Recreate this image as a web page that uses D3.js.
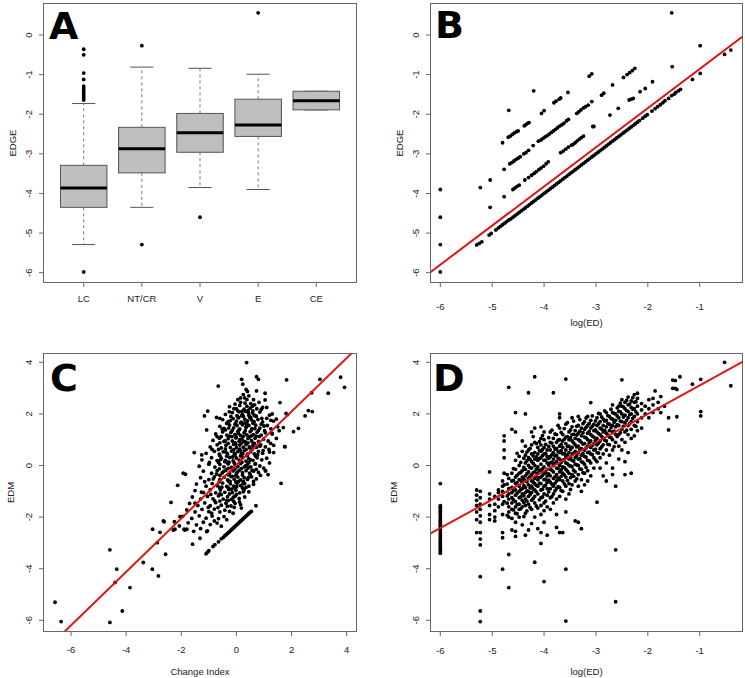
<!DOCTYPE html>
<html><head><meta charset="utf-8">
<script src="https://cdn.jsdelivr.net/npm/d3@7/dist/d3.min.js"></script>
<style>body{margin:0;background:#fff}svg{display:block}</style>
</head><body>
<svg id="c" width="745" height="678"></svg>
<script>
// ---------------- DATA ----------------
// Panel A: boxplot of EDGE by category
const categories = ["LC","NT/CR","V","E","CE"];
const boxLow  = [-5.29,-4.35,-3.85,-3.90,-1.89];
const boxQ1   = [-4.35,-3.48,-2.96,-2.56,-1.89];
const boxMed  = [-3.86,-2.87,-2.47,-2.27,-1.66];
const boxQ3   = [-3.29,-2.33,-1.98,-1.62,-1.42];
const boxHigh = [-1.73,-0.81,-0.84,-0.99,-1.42];
const boxOutliers = [[0,-0.36],[0,-0.50],[0,-0.96],[0,-1.12],[0,-1.29],[0,-1.34],[0,-1.39],[0,-1.44],[0,-1.49],[0,-1.54],[0,-1.59],[0,-1.64],[0,-5.98],
  [1,-0.27],[1,-5.29],[2,-4.60],[3,0.56]];
const yTicksAB = [-6,-5,-4,-3,-2,-1,0];
const xTicksBD = [-6,-5,-4,-3,-2,-1];
const yTicksCD = [-6,-4,-2,0,2,4];
const xTicksC  = [-6,-4,-2,0,2,4];

// Panel B: EDGE vs log(ED)
const bIsolated = [[-6,-3.90],[-6,-4.60],[-6,-5.29],[-6,-5.98],[-5.23,-3.85],[-5.04,-3.66],[-5.04,-4.35],[-4.68,-1.90],[-4.20,-1.41],
  [-1.54,0.56],[-1.53,-0.80],[-0.99,-0.27],[-0.99,-0.97],[-1.14,-1.12],[-0.52,-0.49],[-0.40,-0.38]];
const bLine4 = [[-4.80,-2.72],[-4.69,-2.58],[-4.65,-2.55],[-4.61,-2.51],[-4.57,-2.47],[-4.53,-2.44],[-4.50,-2.42],[-4.38,-2.29],[-4.35,-2.26],[-4.32,-2.23],[-4.29,-2.21],
  [-4.05,-1.98],[-4.00,-1.91],[-3.81,-1.71],[-3.77,-1.67],[-3.71,-1.62],[-3.68,-1.59],[-3.54,-1.45],[-3.13,-1.04],[-3.08,-0.98]];
const bLine3 = [[-4.77,-3.39],[-4.66,-3.25],[-4.62,-3.22],[-4.58,-3.18],[-4.54,-3.14],[-4.50,-3.11],[-4.46,-3.07],[-4.39,-3.00],[-4.35,-2.97],[-4.30,-2.91],[-4.21,-2.79],
  [-4.11,-2.68],[-4.06,-2.65],[-4.02,-2.61],[-3.98,-2.57],[-3.94,-2.54],[-3.90,-2.50],[-3.86,-2.46],[-3.82,-2.42],[-3.78,-2.38],[-3.74,-2.34],[-3.70,-2.30],[-3.66,-2.27],
  [-3.62,-2.23],[-3.57,-2.17],[-3.53,-2.13],[-3.37,-1.98],[-3.33,-1.94],[-3.29,-1.89],[-3.24,-1.84],[-3.20,-1.81],[-3.15,-1.77],[-3.08,-1.68],[-2.89,-1.52],[-2.85,-1.47],
  [-2.68,-1.26],[-2.47,-1.07],[-2.40,-1.00],[-2.35,-0.95],[-2.30,-0.90],[-2.25,-0.84]];
const bLine2 = [[-4.77,-4.08],[-4.60,-3.90],[-4.56,-3.86],[-4.52,-3.82],[-4.48,-3.79],[-4.37,-3.66],[-4.30,-3.60],[-4.24,-3.54],[-4.19,-3.49],[-4.15,-3.45],[-4.10,-3.40],
  [-4.06,-3.36],[-4.01,-3.31],[-3.96,-3.25],[-3.92,-3.20],[-3.68,-2.97],[-3.63,-2.93],[-3.58,-2.88],[-3.53,-2.83],[-3.47,-2.78],[-3.44,-2.76],[-3.40,-2.72],[-3.36,-2.67],
  [-3.32,-2.63],[-3.28,-2.59],[-3.24,-2.55],[-3.06,-2.31],[-3.04,-2.31],[-2.73,-2.02],[-2.57,-1.85],[-2.36,-1.64],[-2.32,-1.62],[-2.28,-1.60],[-2.15,-1.43],[-2.05,-1.35],[-1.91,-1.18]];
const bMain = [[-5.30,-5.30],[-5.25,-5.26],[-5.20,-5.22],[-5.06,-5.05],[-5.02,-5.01],[-4.93,-4.92],[-4.88,-4.87],[-4.84,-4.83],[-4.80,-4.79],[-4.76,-4.75],[-4.72,-4.71],[-4.68,-4.67],
  [-4.64,-4.64],[-4.60,-4.60],[-4.56,-4.56],[-4.52,-4.52],[-4.48,-4.48],[-4.44,-4.44],[-4.40,-4.40],[-4.36,-4.36],[-4.32,-4.32],[-4.28,-4.28],[-4.24,-4.24],[-4.20,-4.20],
  [-4.16,-4.16],[-4.12,-4.12],[-4.08,-4.08],[-4.04,-4.04],[-4.00,-4.00],[-3.96,-3.96],[-3.92,-3.92],[-3.88,-3.88],[-3.84,-3.84],[-3.80,-3.80],[-3.76,-3.76],[-3.72,-3.72],
  [-3.68,-3.68],[-3.64,-3.64],[-3.60,-3.60],[-3.56,-3.56],[-3.52,-3.52],[-3.48,-3.48],[-3.44,-3.44],[-3.40,-3.40],[-3.36,-3.36],[-3.32,-3.32],[-3.28,-3.28],[-3.24,-3.24],
  [-3.20,-3.20],[-3.16,-3.16],[-3.12,-3.12],[-3.08,-3.08],[-3.04,-3.04],[-3.00,-3.00],[-2.96,-2.96],[-2.92,-2.92],[-2.88,-2.88],[-2.84,-2.84],[-2.80,-2.80],[-2.76,-2.76],
  [-2.72,-2.72],[-2.68,-2.68],[-2.64,-2.64],[-2.60,-2.60],[-2.56,-2.56],[-2.52,-2.52],[-2.48,-2.48],[-2.44,-2.44],[-2.40,-2.40],[-2.36,-2.36],[-2.32,-2.32],[-2.28,-2.28],
  [-2.24,-2.24],[-2.20,-2.20],[-2.16,-2.16],[-2.10,-2.10],[-2.05,-2.05],[-2.01,-2.01],[-1.92,-1.92],[-1.86,-1.86],[-1.81,-1.81],[-1.76,-1.76],[-1.71,-1.71],[-1.67,-1.66],
  [-1.60,-1.60],[-1.54,-1.53],[-1.49,-1.49],[-1.46,-1.45],[-1.41,-1.41],[-1.37,-1.37]];
const fitB = [0.13, 0.988];   // intercept, slope

// Panel C: EDM vs Change Index
const cOutliers = [[-6.58,-5.30],[-6.36,-6.05],[-4.59,-3.27],[-4.59,-6.08],[-4.34,-4.02],[-4.40,-4.53],[-4.14,-5.64],[-3.86,-4.73],[-3.38,-3.76],[-3.05,-4.02],[-2.83,-4.28],[-3.04,-2.47]];
const cFringe = [[-2.87,-2.99],[-2.77,-2.59],[-2.65,-2.15],[-2.62,-2.18],[-2.57,-3.44],[-2.37,-1.43],[-2.29,-2.50],[-2.25,-2.18],[-2.13,-0.77],[-2.05,-1.98],[-1.93,-0.30],
  [-1.85,-0.34],[-1.80,-2.47],[-1.59,-3.05],[-1.50,-1.46],[-1.32,-2.82],[-1.08,-2.56],[-2.23,-2.47],[-2.07,-2.34],[-1.87,-2.50],[-1.16,1.92],[-1.04,2.11],[-1.08,1.38],
  [-0.66,3.08],[-0.60,1.83],[-0.72,1.86],[-0.26,2.08],[0.19,3.34],[0.23,3.15],[0.37,3.99],[0.73,3.44],[0.80,3.34],[0.73,2.89],[1.04,2.80],[1.04,2.54],[1.62,-0.69],
  [1.58,2.44],[1.82,3.32],[1.80,2.02],[1.85,1.97],[1.76,0.73],[2.07,1.31],[2.25,1.44],[2.49,1.92],[2.61,2.13],[2.75,2.09],[2.73,2.82],[3.03,3.34],[3.33,2.80],[3.78,3.42],
  [3.92,3.03],[1.06,-0.21],[0.35,2.95],[0.40,2.87],[0.25,2.75],[0.05,2.55],[0.30,2.62],[0.45,2.70],[0.62,2.55],[0.15,2.45],[0.52,2.40],[-1.53,0.50],[-1.26,0.41],
  [1.28,1.25],[1.70,1.47],[1.24,0.86],[1.35,0.50],[1.45,1.80],[1.55,1.35],[1.30,2.00],[1.20,0.10],[1.15,-0.35],[0.71,-1.56]];
const cBlob = [
  [-0.25,2.28],[0.0,2.2],[0.12,2.33],[0.28,2.18],[0.38,2.3],[0.5,2.22],[0.66,2.35],[0.9,2.17],[1.1,2.25],
  [-0.4,1.98],[-0.15,2.05],[0.02,1.93],[0.1,2.08],[0.22,1.97],[0.32,2.1],[0.45,1.95],[0.58,2.04],[0.7,1.92],[0.85,2.07],[1.2,1.95],
  [-0.5,1.78],[-0.3,1.7],[-0.12,1.82],[0.0,1.72],[0.08,1.85],[0.18,1.68],[0.3,1.8],[0.4,1.73],[0.52,1.86],[0.64,1.7],[0.78,1.78],[0.95,1.69],[1.1,1.83],[1.35,1.72],
  [-0.6,1.52],[-0.45,1.44],[-0.25,1.57],[-0.1,1.46],[0.02,1.55],[0.12,1.42],[0.22,1.58],[0.35,1.47],[0.45,1.55],[0.56,1.43],[0.7,1.56],[0.85,1.45],[1.0,1.53],[1.25,1.42],[1.5,1.5],
  [-0.75,1.22],[-0.5,1.3],[-0.35,1.18],[-0.2,1.28],[-0.05,1.2],[0.05,1.32],[0.15,1.17],[0.28,1.27],[0.38,1.19],[0.5,1.31],[0.62,1.2],[0.75,1.29],[0.9,1.18],[1.05,1.27],[1.3,1.22],
  [-0.85,0.97],[-0.62,1.06],[-0.45,0.93],[-0.3,1.04],[-0.15,0.95],[-0.02,1.07],[0.1,0.94],[0.2,1.03],[0.32,0.92],[0.42,1.05],[0.55,0.96],[0.68,1.06],[0.8,0.93],[0.98,1.02],[1.15,0.95],[1.45,1.05],
  [-0.95,0.72],[-0.7,0.8],[-0.55,0.68],[-0.38,0.78],[-0.22,0.7],[-0.1,0.82],[0.0,0.69],[0.12,0.79],[0.25,0.71],[0.35,0.81],[0.48,0.68],[0.6,0.77],[0.72,0.7],[0.88,0.8],[1.05,0.72],[1.35,0.78],[1.75,0.73],
  [-1.1,0.47],[-0.8,0.55],[-0.62,0.44],[-0.48,0.53],[-0.32,0.45],[-0.18,0.56],[-0.05,0.43],[0.05,0.54],[0.18,0.46],[0.28,0.57],[0.4,0.44],[0.52,0.53],[0.65,0.45],[0.8,0.55],[0.95,0.47],[1.2,0.52],
  [-1.25,0.22],[-0.9,0.3],[-0.7,0.19],[-0.55,0.28],[-0.4,0.2],[-0.25,0.31],[-0.12,0.18],[0.0,0.29],[0.1,0.21],[0.22,0.3],[0.35,0.17],[0.45,0.27],[0.6,0.2],[0.75,0.3],[0.92,0.22],[1.1,0.28],
  [-1.35,-0.03],[-1.0,0.05],[-0.78,-0.06],[-0.6,0.04],[-0.45,-0.05],[-0.3,0.06],[-0.18,-0.07],[-0.05,0.03],[0.05,-0.04],[0.15,0.07],[0.28,-0.06],[0.4,0.03],[0.52,-0.05],[0.68,0.05],[0.85,-0.02],
  [-1.2,-0.22],[-0.9,-0.3],[-0.7,-0.2],[-0.52,-0.29],[-0.38,-0.18],[-0.25,-0.3],[-0.12,-0.21],[0.0,-0.31],[0.1,-0.19],[0.22,-0.28],[0.35,-0.2],[0.48,-0.3],[0.62,-0.22],[0.8,-0.27],[1.05,-0.2],
  [-1.3,-0.47],[-1.0,-0.55],[-0.8,-0.44],[-0.6,-0.54],[-0.45,-0.46],[-0.32,-0.56],[-0.2,-0.43],[-0.08,-0.53],[0.05,-0.45],[0.15,-0.56],[0.28,-0.47],[0.4,-0.54],[0.55,-0.44],[0.72,-0.52],
  [-1.45,-0.72],[-1.1,-0.8],[-0.88,-0.7],[-0.68,-0.79],[-0.5,-0.68],[-0.35,-0.81],[-0.22,-0.71],[-0.1,-0.8],[0.02,-0.69],[0.15,-0.78],[0.3,-0.7],[0.45,-0.8],[0.62,-0.73],
  [-1.5,-0.97],[-1.2,-1.05],[-0.95,-0.94],[-0.75,-1.06],[-0.58,-0.95],[-0.42,-1.04],[-0.28,-0.93],[-0.15,-1.05],[-0.02,-0.96],[0.12,-1.06],[0.28,-0.94],[0.45,-1.02],
  [-1.6,-1.22],[-1.3,-1.3],[-1.05,-1.2],[-0.85,-1.29],[-0.65,-1.18],[-0.48,-1.3],[-0.32,-1.21],[-0.18,-1.31],[-0.05,-1.19],[0.1,-1.28],[0.3,-1.22],
  [-1.7,-1.47],[-1.4,-1.55],[-1.15,-1.45],[-0.95,-1.56],[-0.75,-1.44],[-0.55,-1.54],[-0.38,-1.46],[-0.2,-1.57],[-0.05,-1.47],[0.15,-1.52],
  [-1.8,-1.72],[-1.5,-1.8],[-1.25,-1.7],[-1.0,-1.79],[-0.8,-1.69],[-0.6,-1.8],[-0.42,-1.73],[-0.25,-1.78],
  [-1.95,-1.97],[-1.62,-2.05],[-1.35,-1.95],[-1.1,-2.04],[-0.88,-1.96],[-0.65,-2.06],[-0.45,-1.98],
  [-1.75,-2.22],[-1.45,-2.3],[-1.2,-2.2],[-0.95,-2.29],[-0.7,-2.23],
  [-1.9,-2.47],[-1.55,-2.55],[-1.3,-2.45],[-1.05,-2.53],
  [0.05,2.12],[0.2,2.1],[0.42,2.14],[0.6,2.12],
  [-0.2,1.9],[0.05,1.88],[0.25,1.9],[0.48,1.87],[0.72,1.9],
  [-0.35,1.63],[-0.05,1.6],[0.15,1.65],[0.38,1.62],[0.6,1.64],[0.9,1.6],
  [-0.4,1.38],[-0.15,1.36],[0.1,1.39],[0.32,1.35],[0.55,1.38],[0.8,1.36],
  [-0.55,1.12],[-0.25,1.14],[0.0,1.1],[0.25,1.13],[0.48,1.11],[0.72,1.14],
  [-0.6,0.88],[-0.3,0.86],[-0.05,0.89],[0.18,0.87],[0.42,0.88],[0.65,0.86],
  [-0.65,0.62],[-0.4,0.64],[-0.1,0.61],[0.12,0.63],[0.35,0.62],[0.58,0.64],
  [-0.6,0.38],[-0.35,0.36],[-0.08,0.39],[0.15,0.37],[0.4,0.38],[0.7,0.36],
  [-0.65,0.12],[-0.35,0.14],[-0.08,0.1],[0.2,0.13],[0.45,0.11],
  [-0.62,-0.13],[-0.3,-0.11],[-0.05,-0.14],[0.18,-0.12],[0.42,-0.1],
  [-0.6,-0.38],[-0.3,-0.36],[-0.02,-0.39],[0.22,-0.37],[0.5,-0.36],
  [-0.62,-0.63],[-0.28,-0.61],[-0.02,-0.64],[0.25,-0.62],
  [-0.6,-0.88],[-0.3,-0.86],[-0.05,-0.89],[0.22,-0.87],
  [-0.55,-1.13],[-0.25,-1.1],[0.0,-1.12],
  [-0.6,-1.38],[-0.3,-1.36],[-0.1,-1.39]];
const cCore = [[-0.52,1.41],[-0.38,0.52],[-0.22,1.74],[-0.18,-0.92],[-0.14,0.33],[-0.09,2.2],[0.03,-0.27],[0.07,1.25],[0.11,-1.41],[0.14,0.58],[0.19,1.93],
  [0.24,-0.71],[0.27,0.93],[0.31,2.42],[0.33,-0.02],[0.36,1.52],[0.43,-0.47],[0.46,1.08],[0.51,0.22],[0.54,1.77],[0.57,-0.18],[0.61,0.86],[0.67,1.43],[0.69,0.07],
  [0.74,2.2],[0.77,0.42],[0.83,1.12],[0.87,-0.38],[0.92,1.83],[0.97,0.58],[-0.46,-0.23],[-0.41,0.95],[-0.33,-1.58],[-0.27,0.13],[-0.23,-0.62],[-0.16,1.12],
  [-0.11,-1.23],[-0.07,0.47],[-0.03,1.62],[0.01,-0.82],[-0.72,-0.33],[-0.67,-1.63],[-0.58,0.23],[-0.53,-0.84],[-0.84,-0.52],[-0.79,-1.37],[-0.93,-1.12],
  [-1.02,-1.62],[-1.15,-0.63],[-1.27,-1.03],[-0.98,0.12],[-0.88,0.62],[-0.7,1.12],[0.38,2.55],[0.15,2.62],[0.58,2.3],[0.82,2.45],[0.95,2.25],[-0.05,2.38],
  [0.25,-1.02],[0.35,-0.85],[0.18,-1.65],[-0.12,-1.85],[-0.35,-2.1],[-0.55,-2.35],[-0.8,-2.15],[1.12,1.55],[1.18,0.62],[1.25,1.75],[0.99,-0.1],[1.02,1.35],
  [0.62,-0.62],[0.72,-0.15],[0.47,0.72],[0.12,1.0],[0.23,0.45],[-0.28,1.45],[-0.42,0.15],[-0.15,-0.42],[0.08,-0.62],[-0.02,0.82],[0.3,1.65],[0.43,2.05],
  [0.65,1.95],[0.55,1.15],[0.85,0.75],[-0.6,-1.1],[-0.35,-1.35],[-0.08,-1.62],[-0.9,-1.85]];
const cStreak = [[-1.10,-3.42],[-1.05,-3.36],[-1.00,-3.30],[-0.85,-3.14],[-0.78,-3.07],[-0.65,-2.96],[-0.55,-2.84],[-0.48,-2.79],[-0.42,-2.72],
  [-0.38,-2.69],[-0.34,-2.65],[-0.30,-2.61],[-0.26,-2.57],[-0.22,-2.53],[-0.18,-2.49],[-0.14,-2.45],[-0.10,-2.41],[-0.06,-2.37],[-0.02,-2.33],[0.02,-2.29],[0.06,-2.25],
  [0.10,-2.21],[0.14,-2.17],[0.18,-2.13],[0.22,-2.09],[0.26,-2.05],[0.30,-2.01],[0.34,-1.97],[0.38,-1.93],[0.42,-1.89],[0.46,-1.85],[0.50,-1.81],[0.54,-1.78]];
const fitC = [0.02, 1.036];

// Panel D: EDM vs log(ED) -- points grouped by their log(ED) value
const dColumns = [
  [-6.00,[-0.70,-1.56,-1.62,-1.70,-1.78,-1.85,-1.92,-2.00,-2.07,-2.14,-2.20,-2.28,-2.35,-2.42,-2.50,-2.58,-2.65,-2.72,-2.80,-2.88,-2.95,-3.02,-3.10,-3.18,-3.25,-3.33,-3.40]],
  [-5.30,[-0.95,-1.15,-1.35,-1.55,-1.80,-2.10,-2.60]],
  [-5.23,[-1.00,-1.25,-1.50,-1.70,-1.95,-2.20,-2.60,-2.85,-3.08,-4.31,-5.64,-6.05]],
  [-5.05,[-0.25,-1.10,-1.30,-1.55,-1.90,-2.10]],
  [-4.95,[-1.20,-1.50,-1.75,-2.00,-2.15]],
  [-4.88,[-0.95,-1.05,-1.30,-1.60]],
  [-4.80,[-0.60,-0.80,-1.00,-1.20,-1.50,-1.90,-2.60,-2.80,-4.02]],
  [-4.77,[0.30,0.60,0.95,1.15,-0.30,-0.75,-1.40]],
  [-4.71,[-0.35,-0.72,-1.18,-1.46,-1.93]],
  [-4.68,[3.03,-0.50,-0.90,-1.10,-1.30,-1.60,-1.80,-2.00,-3.45,-4.73]],
  [-4.62,[1.40,-0.30,-0.60,-0.85,-1.05,-1.25,-1.45,-1.70,-2.05,-2.50]],
  [-4.59,[-0.12,-0.58,-0.97,-1.33,-1.72]],
  [-4.55,[2.05,1.30,0.20,-0.15,-0.45,-0.70,-0.95,-1.15,-1.40,-1.60,-1.85,-2.20,-2.55,-2.75]],
  [-4.52,[0.47,-0.38,-0.66,-1.08,-1.52,-1.87]],
  [-4.48,[0.35,0.00,-0.30,-0.55,-0.80,-1.00,-1.25,-1.50,-1.70,-2.00]],
  [-4.45,[0.12,-0.27,-0.58,-0.93,-1.22,-1.68]],
  [-4.42,[0.95,0.55,-0.20,-0.45,-0.65,-0.90,-1.10,-1.35,-1.60,-2.30]],
  [-4.39,[0.28,-0.07,-0.52,-0.78,-1.17,-1.44,-1.98]],
  [-4.36,[2.00,0.75,0.40,0.10,-0.15,-0.40,-0.60,-0.85,-1.05,-1.30,-1.55,-1.85,-2.70]],
  [-4.33,[0.52,0.18,-0.32,-0.63,-0.98,-1.38,-1.76]],
  [-4.30,[2.82,0.60,0.30,0.00,-0.25,-0.50,-0.75,-1.00,-1.20,-1.50,-2.50]],
  [-4.27,[0.66,0.24,-0.08,-0.43,-0.87,-1.13,-1.62]],
  [-4.24,[1.30,0.80,0.45,0.15,-0.10,-0.35,-0.60,-0.80,-1.05,-1.35,-1.70,-2.25]],
  [-4.21,[1.12,0.37,0.08,-0.28,-0.64,-0.91,-1.28]],
  [-4.18,[3.44,1.45,0.90,0.50,0.25,0.00,-0.25,-0.50,-0.70,-0.95,-1.20,-1.45,-2.00,-3.75]],
  [-4.15,[0.85,0.33,-0.14,-0.41,-0.77,-1.02,-1.57]],
  [-4.12,[0.70,0.45,0.20,-0.05,-0.30,-0.55,-0.80,-1.10,-1.65,-2.45]],
  [-4.09,[0.92,0.58,0.27,-0.18,-0.47,-0.68,-1.33]],
  [-4.06,[1.50,1.05,0.80,0.55,0.30,0.05,-0.20,-0.45,-0.70,-0.95,-1.25,-1.55,-1.90,-2.60,-3.02]],
  [-4.03,[1.16,0.62,0.38,-0.12,-0.38,-0.92,-1.22]],
  [-4.00,[1.30,1.00,0.70,0.45,0.20,-0.05,-0.30,-0.55,-0.80,-1.10,-1.45,-1.75,-2.20,-4.50]],
  [-3.97,[0.82,0.47,0.21,-0.27,-0.53,-0.76,-1.38]],
  [-3.94,[0.60,0.35,0.10,-0.15,-0.40,-0.65,-0.90,-1.15,-1.60,-2.70]],
  [-3.91,[1.08,0.74,0.28,0.02,-0.33,-0.57,-1.02]],
  [-3.88,[1.30,0.90,0.60,0.35,0.10,-0.15,-0.40,-0.65,-0.90,-1.25,-1.70]],
  [-3.85,[1.37,0.87,0.42,0.13,-0.18,-0.72,-1.21]],
  [-3.82,[2.82,1.05,0.75,0.50,0.25,0.00,-0.25,-0.50,-0.80,-1.10,-1.45]],
  [-3.79,[1.22,0.64,0.37,0.08,-0.44,-0.69,-0.98]],
  [-3.76,[1.20,0.90,0.65,0.40,0.15,-0.10,-0.35,-0.60,-0.90,-1.30,-1.90,-2.40]],
  [-3.73,[1.55,0.98,0.55,0.28,-0.12,-0.48,-0.82]],
  [-3.70,[2.00,1.85,1.45,1.00,0.75,0.50,0.25,0.00,-0.25,-0.55,-0.85,-1.20,-2.60]],
  [-3.67,[1.28,0.82,0.58,0.12,-0.17,-0.42,-0.97]],
  [-3.64,[1.20,0.95,0.70,0.45,0.20,-0.05,-0.30,-0.60,-1.00,-2.60]],
  [-3.61,[1.43,1.02,0.47,0.23,-0.08,-0.36,-0.71]],
  [-3.58,[3.35,1.60,1.10,0.85,0.60,0.35,0.10,-0.15,-0.45,-0.80,-1.30,-1.80,-4.02,-6.03]],
  [-3.55,[1.66,1.12,0.74,0.42,0.07,-0.22,-0.58]],
  [-3.52,[1.30,1.00,0.75,0.50,0.25,0.00,-0.30,-0.70,-1.10]],
  [-3.49,[1.38,1.08,0.63,0.32,-0.02,-0.47,-0.93]],
  [-3.46,[1.85,1.50,1.20,0.95,0.70,0.45,0.20,-0.05,-0.35,-0.75]],
  [-3.43,[1.72,1.21,0.88,0.48,0.17,-0.18,-0.42]],
  [-3.40,[1.35,1.05,0.80,0.55,0.30,0.05,-0.25,-0.60,-2.15]],
  [-3.37,[1.52,1.18,0.72,0.38,0.02,-0.52]],
  [-3.34,[1.90,1.55,1.25,1.00,0.75,0.50,0.25,0.00,-0.35,-0.80,-2.20]],
  [-3.31,[1.78,1.33,0.96,0.62,0.27,-0.13]],
  [-3.28,[1.45,1.15,0.90,0.65,0.40,0.15,-0.15,-0.55,-1.00,-2.45]],
  [-3.25,[1.62,1.27,0.83,0.47,0.12,-0.28]],
  [-3.22,[1.70,1.40,1.10,0.85,0.60,0.35,0.05,-0.30,-0.75]],
  [-3.19,[1.84,1.48,1.07,0.68,0.32,-0.07]],
  [-3.16,[1.90,1.55,1.25,1.00,0.75,0.50,0.20,-0.20,-0.60]],
  [-3.13,[1.63,1.32,0.88,0.52,0.18]],
  [-3.10,[2.44,1.75,1.45,1.20,0.95,0.70,0.45,0.10,-0.40]],
  [-3.07,[1.92,1.52,1.14,0.78,0.42]],
  [-3.04,[1.60,1.35,1.10,0.85,0.60,0.30,-0.10]],
  [-3.01,[1.73,1.38,0.97,0.63,0.22]],
  [-2.98,[1.85,1.55,1.30,1.05,0.80,0.50,0.15,-1.42]],
  [-2.95,[2.02,1.62,1.24,0.87,0.48]],
  [-2.92,[2.00,1.70,1.45,1.20,0.95,0.65,0.30,-0.10]],
  [-2.89,[1.88,1.41,1.13,0.72]],
  [-2.86,[1.80,1.55,1.30,1.05,0.80,0.45,-0.40]],
  [-2.83,[2.12,1.72,1.36,0.98]],
  [-2.80,[2.05,1.75,1.50,1.25,0.95,0.60,0.10,-0.60]],
  [-2.77,[1.93,1.62,1.18,0.82]],
  [-2.74,[1.90,1.60,1.35,1.10,0.80,0.40]],
  [-2.71,[2.18,1.82,1.47,1.08]],
  [-2.68,[2.35,2.05,1.80,1.55,1.30,1.00,0.60,-0.10,-0.35]],
  [-2.65,[2.02,1.68,1.33,0.73]],
  [-2.62,[2.00,1.75,1.50,1.20,0.90,-0.80,-3.27,-5.28]],
  [-2.59,[2.23,1.92,1.58,1.12]],
  [-2.56,[2.30,2.10,1.85,1.55,1.20,0.75,0.25]],
  [-2.53,[2.42,2.08,1.72,1.27]],
  [-2.50,[3.32,2.55,2.30,2.00,1.70,1.40,1.00,0.60]],
  [-2.47,[2.27,1.88,1.52]],
  [-2.44,[2.45,2.20,1.95,1.65,1.30,0.90,0.15,-0.35]],
  [-2.41,[2.52,2.13,1.74,1.37]],
  [-2.38,[2.65,2.35,2.10,1.85,1.55,1.20,0.50]],
  [-2.35,[2.38,1.97,1.62]],
  [-2.32,[2.50,2.25,2.00,1.70,1.40,1.05,-0.30]],
  [-2.29,[2.63,2.18,1.83]],
  [-2.26,[2.75,2.45,2.20,1.90,1.55,1.15]],
  [-2.23,[2.47,2.08,1.52]],
  [-2.20,[2.80,2.60,2.30,2.00,1.70,1.35]],
  [-2.12,[2.40,2.15,1.85,1.45]],
  [-2.05,[2.30,2.00,0.51]],
  [-1.98,[2.55,2.20,1.85]],
  [-1.90,[2.60,2.35,2.05]],
  [-1.86,[2.89]],
  [-1.80,[2.45,2.20]],
  [-1.75,[2.67,2.05]],
  [-1.68,[2.30]],
  [-1.60,[1.85,1.38]],
  [-1.52,[3.31,2.99]],
  [-1.47,[3.29,2.99]],
  [-1.44,[2.95,1.89]],
  [-1.38,[3.44]],
  [-1.14,[3.15]],
  [-0.98,[3.34,2.09,1.92]],
  [-0.52,[4.00]],
  [-0.40,[3.09]]];
const fitD = [4.21, 1.106];

// ---------------- DRAWING ----------------
const svg = d3.select("#c");
const FONT = "'Liberation Sans', Arial, Helvetica, sans-serif";
const FS = 9.5;
const TXT = "#222";
const AXC = "#666";
const R = 1.9;
const fmt = d => String(d); // hyphen-minus like R

function frame(g, b){
  g.append("rect").attr("x",b.l+0.5).attr("y",b.t+0.5).attr("width",b.r-b.l-1).attr("height",b.b-b.t-1)
   .attr("fill","none").attr("stroke",AXC).attr("stroke-width",1);
}
function yAxis(g, b, scale, ticks, labelX, title, titleX){
  ticks.forEach(t=>{
    const y = scale(t);
    g.append("line").attr("x1",b.l).attr("x2",b.l-4).attr("y1",y).attr("y2",y).attr("stroke",AXC);
    g.append("text").attr("transform",`translate(${labelX},${y}) rotate(-90)`).attr("text-anchor","middle")
      .attr("dominant-baseline","central").attr("font-family",FONT).attr("font-size",FS).attr("fill",TXT).text(fmt(t));
  });
  g.append("text").attr("transform",`translate(${titleX},${(b.t+b.b)/2}) rotate(-90)`).attr("text-anchor","middle")
    .attr("dominant-baseline","central").attr("font-family",FONT).attr("font-size",FS).attr("fill",TXT).text(title);
}
function xAxis(g, b, scale, ticks, labels, labelY, title, titleY){
  ticks.forEach((t,i)=>{
    const x = scale(t);
    g.append("line").attr("x1",x).attr("x2",x).attr("y1",b.b).attr("y2",b.b+4).attr("stroke",AXC);
    g.append("text").attr("x",x).attr("y",labelY).attr("text-anchor","middle").attr("dominant-baseline","central")
      .attr("font-family",FONT).attr("font-size",FS).attr("fill",TXT).text(labels ? labels[i] : fmt(t));
  });
  if (title) g.append("text").attr("x",(b.l+b.r)/2).attr("y",titleY).attr("text-anchor","middle").attr("dominant-baseline","central")
      .attr("font-family",FONT).attr("font-size",FS).attr("fill",TXT).text(title);
}
function dots(g, pts, x, y){
  g.selectAll(null).data(pts).enter().append("circle")
    .attr("cx",d=>x(d[0])).attr("cy",d=>y(d[1])).attr("r",R).attr("fill","#000");
}
function fitLine(g, b, x, y, fit, id){
  g.append("clipPath").attr("id",id).append("rect").attr("x",b.l+1).attr("y",b.t+1).attr("width",b.r-b.l-2).attr("height",b.b-b.t-2);
  const [x0,x1] = x.domain();
  g.append("line").attr("clip-path",`url(#${id})`)
    .attr("x1",x(x0)).attr("y1",y(fit[0]+fit[1]*x0)).attr("x2",x(x1)).attr("y2",y(fit[0]+fit[1]*x1))
    .attr("stroke","#dd1515").attr("stroke-width",2);
}
function letter(g, s, x, y){
  g.append("text").attr("x",x).attr("y",y).attr("font-family","'DejaVu Sans', sans-serif").attr("font-weight","bold")
    .attr("font-size",38).attr("fill","#000").text(s);
}

// ----- Panel A -----
{
  const b = {l:43, r:357, t:3, b:283};
  const g = svg.append("g");
  const x = d3.scaleLinear().domain([0.3,5.7]).range([b.l,b.r]);
  const y = d3.scaleLinear().domain([-6.26,0.808]).range([b.b,b.t]);
  const hw = x(0.4)-x(0), sw = x(0.2)-x(0);
  categories.forEach((c,i)=>{
    const cx = x(i+1);
    g.append("line").attr("x1",cx).attr("x2",cx).attr("y1",y(boxQ3[i])).attr("y2",y(boxHigh[i])).attr("stroke","#777").attr("stroke-dasharray","3,3");
    g.append("line").attr("x1",cx).attr("x2",cx).attr("y1",y(boxQ1[i])).attr("y2",y(boxLow[i])).attr("stroke","#777").attr("stroke-dasharray","3,3");
    g.append("line").attr("x1",cx-sw).attr("x2",cx+sw).attr("y1",y(boxHigh[i])).attr("y2",y(boxHigh[i])).attr("stroke","#555");
    g.append("line").attr("x1",cx-sw).attr("x2",cx+sw).attr("y1",y(boxLow[i])).attr("y2",y(boxLow[i])).attr("stroke","#555");
    g.append("rect").attr("x",cx-hw).attr("width",2*hw).attr("y",y(boxQ3[i])).attr("height",y(boxQ1[i])-y(boxQ3[i]))
      .attr("fill","#bebebe").attr("stroke","#555").attr("stroke-width",1);
    g.append("line").attr("x1",cx-hw).attr("x2",cx+hw).attr("y1",y(boxMed[i])).attr("y2",y(boxMed[i])).attr("stroke","#000").attr("stroke-width",3);
  });
  g.selectAll(null).data(boxOutliers).enter().append("circle")
    .attr("cx",d=>x(d[0]+1)).attr("cy",d=>y(d[1])).attr("r",R).attr("fill","#000");
  frame(g,b);
  yAxis(g,b,y,yTicksAB,28,"EDGE",12);
  xAxis(g,b,x,[1,2,3,4,5],categories,298,null,0);
  letter(g,"A",49,39);
}
// ----- Panel B -----
{
  const b = {l:430, r:743, t:3, b:283};
  const g = svg.append("g");
  const x = d3.scaleLinear().domain([-6.199,-0.165]).range([b.l,b.r]);
  const y = d3.scaleLinear().domain([-6.26,0.808]).range([b.b,b.t]);
  [bIsolated,bLine4,bLine3,bLine2,bMain].forEach(p=>dots(g,p,x,y));
  fitLine(g,b,x,y,fitB,"clipB");
  frame(g,b);
  yAxis(g,b,y,yTicksAB,415,"EDGE",399);
  xAxis(g,b,x,xTicksBD,null,306,"log(ED)",322);
  letter(g,"B",435,38);
}
// ----- Panel C -----
{
  const b = {l:43, r:357, t:353, b:632};
  const g = svg.append("g");
  const x = d3.scaleLinear().domain([-7.016,4.374]).range([b.l,b.r]);
  const y = d3.scaleLinear().domain([-6.453,4.36]).range([b.b,b.t]);
  [cOutliers,cFringe,cBlob,cCore,cStreak].forEach(p=>dots(g,p,x,y));
  fitLine(g,b,x,y,fitC,"clipC");
  frame(g,b);
  yAxis(g,b,y,yTicksCD,28,"EDM",10);
  xAxis(g,b,x,xTicksC,null,649,"Change Index",671);
  letter(g,"C",50,391);
}
// ----- Panel D -----
{
  const b = {l:430, r:743, t:353, b:632};
  const g = svg.append("g");
  const x = d3.scaleLinear().domain([-6.199,-0.165]).range([b.l,b.r]);
  const y = d3.scaleLinear().domain([-6.453,4.36]).range([b.b,b.t]);
  const pts = [];
  dColumns.forEach(([cx,ys])=>ys.forEach(v=>pts.push([cx,v])));
  dots(g,pts,x,y);
  fitLine(g,b,x,y,fitD,"clipD");
  frame(g,b);
  yAxis(g,b,y,yTicksCD,415,"EDM",393);
  xAxis(g,b,x,xTicksBD,null,650,"log(ED)",671);
  letter(g,"D",433,391);
}
</script>
</body></html>
